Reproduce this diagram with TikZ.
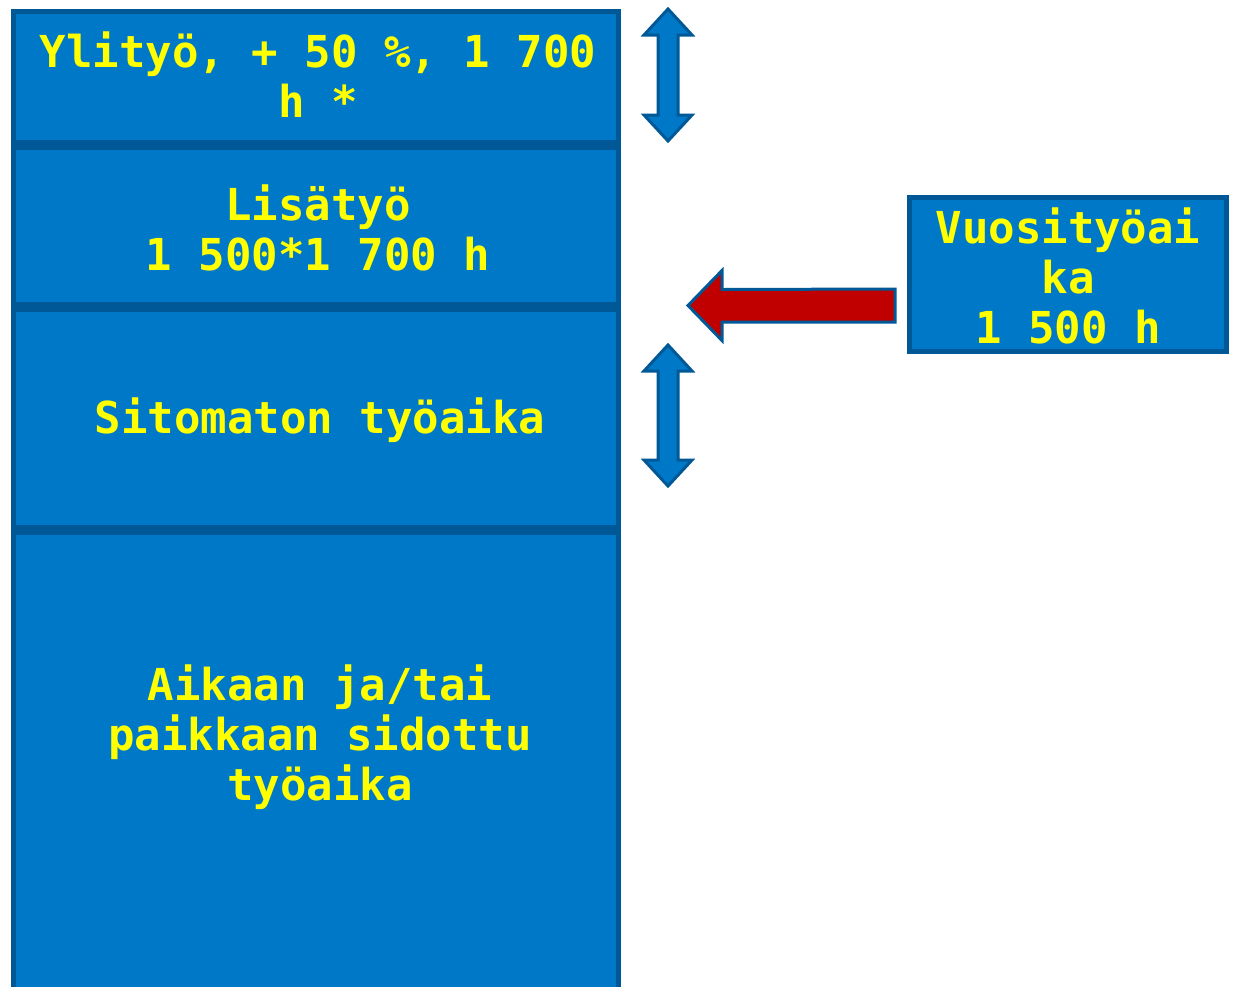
\documentclass[tikz,border=0pt]{standalone}
\usepackage{fontspec}
\setmonofont{DejaVu Sans Mono}
\usetikzlibrary{calc}
\definecolor{fillblue}{RGB}{0,120,200}
\definecolor{edgeblue}{RGB}{0,88,150}
\definecolor{txtyellow}{RGB}{255,255,0}
\definecolor{arrowred}{RGB}{192,0,0}
\tikzset{
  colbox/.style={draw=edgeblue, fill=fillblue, line width=5pt, rectangle, inner sep=0pt},
  boxtext/.style={text=txtyellow, align=center, font=\ttfamily\bfseries\fontsize{44}{50}\selectfont, inner sep=0pt},
  fatblue/.style={draw=edgeblue, fill=fillblue, line width=3pt, line join=miter},
  fatred/.style={draw=edgeblue, fill=arrowred, line width=3pt, line join=miter}
}
\begin{document}
\begin{tikzpicture}[x=1pt,y=-1pt]
\useasboundingbox (0,0) rectangle (1233,986);
\fill[white] (0,0) rectangle (1233,986);
% column boxes
\node[colbox, minimum width=605pt, minimum height=131pt] (b1) at (316,77) {};
\node[colbox, minimum width=605pt, minimum height=157pt] (b2) at (316,226) {};
\node[colbox, minimum width=605pt, minimum height=218pt] (b3) at (316,418.5) {};
\node[colbox, minimum width=605pt, minimum height=470pt] (b4) at (316,767.5) {};
% texts
\node[boxtext] (t1) at (318,75) {Ylityö, + 50 \%, 1 700\\h *};
\node[boxtext] (t2) at (318,228) {Lisätyö\\1 500*1 700 h};
\node[boxtext] (t3) at (320,420) {Sitomaton työaika};
\node[boxtext] (t4) at (320,737) {Aikaan ja/tai\\paikkaan sidottu\\työaika};
% right box
\node[colbox, minimum width=317pt, minimum height=154pt] (rb) at (1068,274.5) {};
\node[boxtext] (rt) at (1068,276) {Vuosityöai\\ka\\1 500 h};
% red arrow from right box towards column
\coordinate (redend) at ($(rb.west)+(-12,31)$);
\coordinate (tip) at ($(redend)+(-207,0)$);
\draw[fatred] (tip) -- ++(34,-35) -- ++(0,19) -- ($(redend)+(0,-16.5)$) -- ($(redend)+(0,16.5)$) -- ($(tip)+(34,16.5)$) -- ++(0,18.5) -- cycle;
% double arrows beside the column
\coordinate (a1top) at ($(b1.north east)+(47,0)$);
\coordinate (a1bot) at ($(b1.south east)+(47,-4)$);
\draw[fatblue] (a1top) -- ++(24,26) -- ++(-14,0) -- ($(a1bot)+(10,-26)$) -- ++(14,0) -- (a1bot) -- ++(-24,-26) -- ++(14,0) -- ($(a1top)+(-10,26)$) -- ++(-14,0) -- cycle;
\coordinate (a2top) at ($(b3.north east)+(47,38)$);
\coordinate (a2bot) at ($(b3.north east)+(47,179)$);
\draw[fatblue] (a2top) -- ++(24,26) -- ++(-14,0) -- ($(a2bot)+(10,-26)$) -- ++(14,0) -- (a2bot) -- ++(-24,-26) -- ++(14,0) -- ($(a2top)+(-10,26)$) -- ++(-14,0) -- cycle;
\end{tikzpicture}
\end{document}
